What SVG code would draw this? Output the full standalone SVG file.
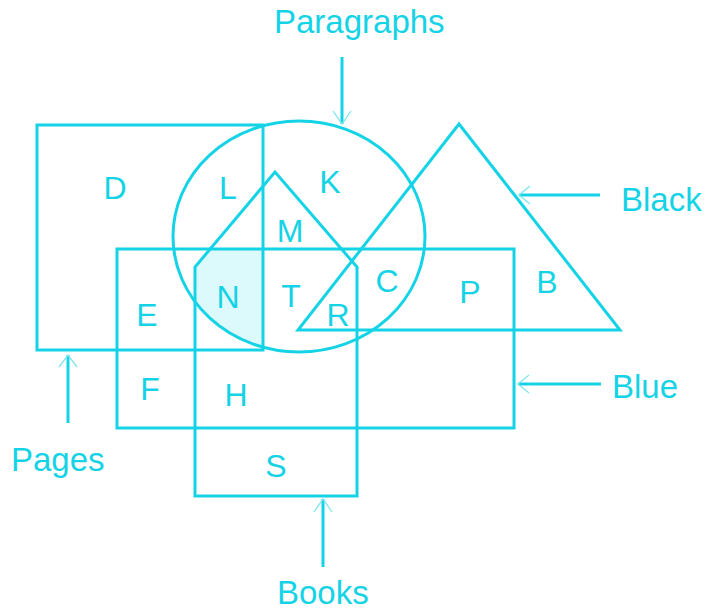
<svg xmlns="http://www.w3.org/2000/svg" width="707" height="610" viewBox="0 0 707 610">
<style>
.s{fill:none;stroke:#14d3e6;stroke-width:3;stroke-linejoin:miter}
.ah{fill:none;stroke:#7fe6f0;stroke-width:1.3}
.sh{stroke:#14d3e6;stroke-width:3}
.t{font-family:"Liberation Sans",Arial,sans-serif;font-size:32px;fill:#14d3e6;text-anchor:middle}
.l{font-family:"Liberation Sans",Arial,sans-serif;font-size:33px;fill:#14d3e6}
</style>
<defs>
<clipPath id="nclip"><polygon points="195,350 195,267 210,249 263,249 263,350"/></clipPath>
</defs>
<rect width="707" height="610" fill="#ffffff"/>
<g id="shaded-N">
<ellipse cx="299" cy="236.5" rx="126" ry="115.5" fill="#dcf9fb" clip-path="url(#nclip)"/>
</g>
<g id="pages"><rect class="s" x="37" y="125" width="226" height="225"/></g>
<g id="paragraphs"><ellipse class="s" cx="299" cy="236.5" rx="126" ry="115.5"/></g>
<g id="black"><polygon class="s" points="459,124 620,330 298,330"/></g>
<g id="blue"><rect class="s" x="117" y="249" width="397" height="179"/></g>
<g id="books"><polygon class="s" points="195,496 195,267 275,172 357,267 357,496"/></g>
<g id="connectors">
<line class="sh" x1="342" y1="57" x2="342" y2="124"/>
<polyline class="ah" points="333,111 342,124 351,111"/>
<line class="sh" x1="600" y1="195" x2="519" y2="195"/>
<polyline class="ah" points="530,186 519,195 530,204"/>
<line class="sh" x1="601" y1="384" x2="518" y2="384"/>
<polyline class="ah" points="529,375 518,384 529,393"/>
<line class="sh" x1="68" y1="423" x2="68" y2="355"/>
<polyline class="ah" points="59,367 68,355 77,367"/>
<line class="sh" x1="323" y1="567" x2="323" y2="499"/>
<polyline class="ah" points="314,512 323,499 332,512"/>
</g>
<g id="labels">
<text class="l" x="274" y="33">Paragraphs</text>
<text class="l" x="621" y="211">Black</text>
<text class="l" x="612" y="398">Blue</text>
<text class="l" x="11" y="471">Pages</text>
<text class="l" x="277" y="604">Books</text>
</g>
<g id="regions">
<text class="t" x="115" y="199">D</text>
<text class="t" x="228" y="199">L</text>
<text class="t" x="330" y="193">K</text>
<text class="t" x="290" y="242">M</text>
<text class="t" x="228" y="308">N</text>
<text class="t" x="291" y="307">T</text>
<text class="t" x="338" y="326">R</text>
<text class="t" x="387" y="292">C</text>
<text class="t" x="470" y="303">P</text>
<text class="t" x="547" y="293">B</text>
<text class="t" x="147" y="326">E</text>
<text class="t" x="150" y="400">F</text>
<text class="t" x="236" y="406">H</text>
<text class="t" x="276" y="477">S</text>
</g>
</svg>
